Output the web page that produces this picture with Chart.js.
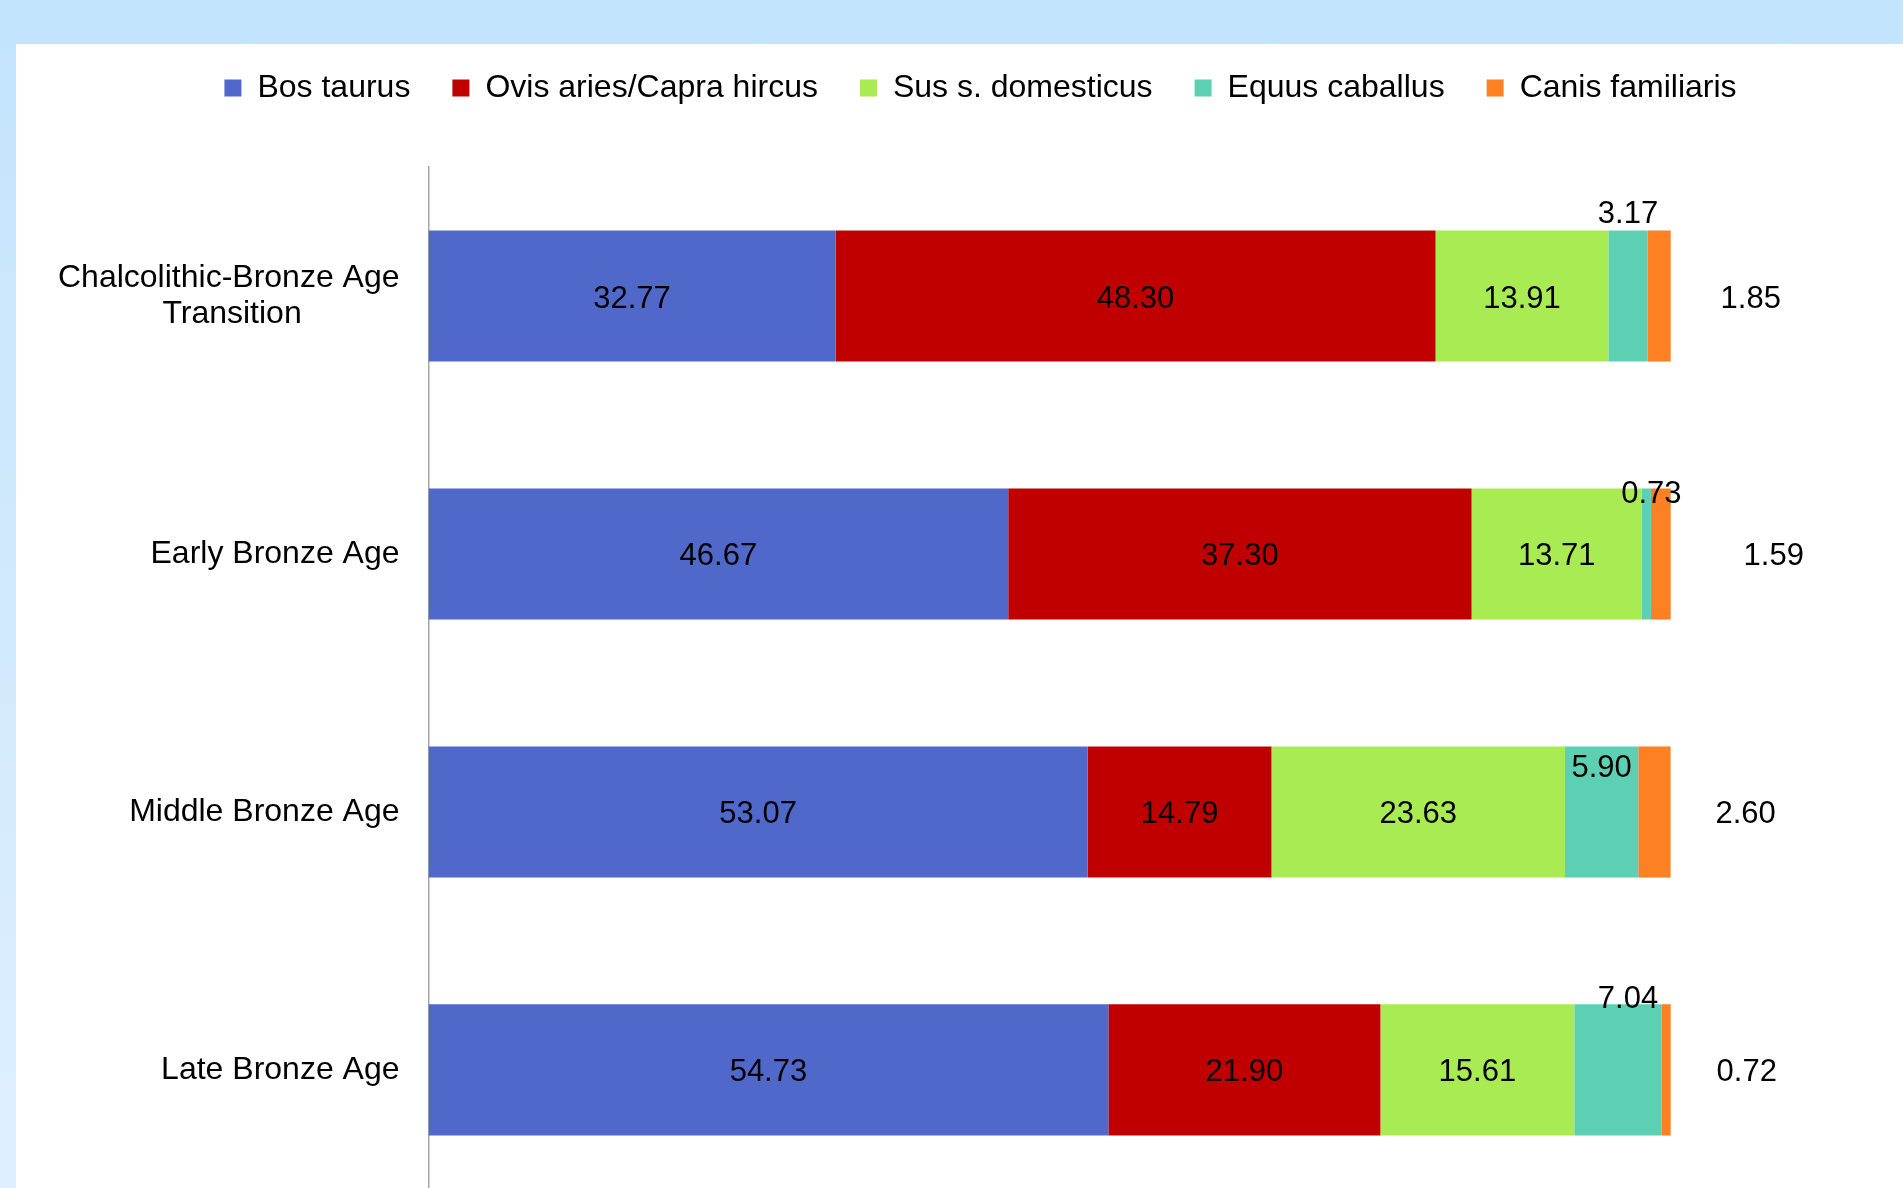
<!DOCTYPE html>
<html>
<head>
<meta charset="utf-8">
<title>Fauna por periodo</title>
<script src="https://cdn.jsdelivr.net/npm/chart.js@4.4.1/dist/chart.umd.min.js"></script>
<style>
    html, body { margin: 0; padding: 0; }
    body {
        width: 1903px;
        height: 1188px;
        overflow: hidden;
        position: relative;
        background: linear-gradient(180deg, #c2e4fd 0%, #d0e9fd 45%, #deefff 100%);
    }
    #panel { position: absolute; left: 16px; top: 44px; right: 0; bottom: 0; background: #fff; }
    #grafico { position: absolute; left: 0; top: 0; }
</style>
</head>
<body>
<div id="panel"></div>
<!-- el canvas pasa del borde inferior: el eje se corta abajo -->
<canvas id="grafico" width="1903" height="1235"></canvas>
<script>
// periodos y porcentajes por especie
var periodos = [
    ['Chalcolithic-Bronze Age', 'Transition' + '\u00a0'.repeat(11)],
    'Early Bronze Age',
    'Middle Bronze Age',
    'Late Bronze Age'
];
var especies = ['Bos taurus', 'Ovis aries/Capra hircus', 'Sus s. domesticus', 'Equus caballus', 'Canis familiaris'];
var bosTaurus       = [32.77, 46.67, 53.07, 54.73];
var ovisCapra       = [48.30, 37.30, 14.79, 21.90];
var susDomesticus   = [13.91, 13.71, 23.63, 15.61];
var equusCaballus   = [3.17, 0.73, 5.90, 7.04];
var canisFamiliaris = [1.85, 1.59, 2.60, 0.72];

var colores = ['#5068c9', '#c00000', '#a9eb52', '#5dd0b3', '#fd8023'];

// ajustes a mano de las etiquetas pequeñas (px)
var equusDx = [0, 5, 0, 10];
var equusDy = [-19, 3, 19, -8];   // desde el borde superior de la barra
var canisDx = [80, 103, 75, 76];  // desde el final de la barra

var fuente = '"Liberation Sans", Arial, sans-serif';
Chart.defaults.font.family = fuente;
Chart.defaults.color = '#000';

// valores sobre las barras
var etiquetas = {
    id: 'etiquetas',
    afterDatasetsDraw: function (chart) {
        var ctx = chart.ctx;
        ctx.save();
        ctx.font = '31px ' + fuente;
        ctx.fillStyle = '#000';
        ctx.textAlign = 'center';
        ctx.textBaseline = 'middle';
        chart.data.datasets.forEach(function (ds, d) {
            chart.getDatasetMeta(d).data.forEach(function (bar, i) {
                var x = (bar.x + bar.base) / 2;
                var y = bar.y + 3;
                if (d === 3) {
                    x += equusDx[i];
                    y = bar.y - bar.height / 2 + equusDy[i] + 3;
                } else if (d === 4) {
                    x = bar.x + canisDx[i];
                }
                ctx.fillText(ds.data[i].toFixed(2), x, y);
            });
        });
        ctx.restore();
    }
};

// mas aire entre la leyenda y el grafico
var espacioLeyenda = {
    id: 'espacioLeyenda',
    beforeLayout: function (chart) {
        var legend = chart.legend;
        if (!legend || legend._altoFijo) return;
        var fit = legend.fit;
        legend.fit = function () {
            fit.call(this);
            this.height = 137;
        };
        legend._altoFijo = true;
    }
};

var series = [bosTaurus, ovisCapra, susDomesticus, equusCaballus, canisFamiliaris];

var ctx = document.getElementById('grafico').getContext('2d');
var grafico = new Chart(ctx, {
    type: 'bar',
    data: {
        labels: periodos,
        datasets: series.map(function (valores, i) {
            return {
                label: especies[i],
                data: valores,
                backgroundColor: colores[i],
                borderWidth: 0,
                barPercentage: 0.508,
                categoryPercentage: 1
            };
        })
    },
    options: {
        indexAxis: 'y',
        responsive: false,
        animation: false,
        layout: { padding: { top: 30, left: 58, right: 0, bottom: 0 } },
        plugins: {
            legend: {
                position: 'top',
                labels: {
                    boxWidth: 17,
                    boxHeight: 17,
                    padding: 42,
                    color: '#000',
                    font: { size: 32 }
                }
            },
            tooltip: { enabled: false }
        },
        scales: {
            x: {
                stacked: true,
                display: false,
                min: 0,
                max: 118.7   // deja sitio a la derecha para las etiquetas de Canis
            },
            y: {
                stacked: true,
                // sin marcas, pero su largo separa los nombres del eje
                grid: { display: false, tickLength: 29 },
                border: { display: true, color: '#a6a6a6', width: 1.5 },
                ticks: {
                    padding: 0,
                    color: '#000',
                    font: { size: 32, lineHeight: 1.13 }
                }
            }
        }
    },
    plugins: [etiquetas, espacioLeyenda]
});
</script>
</body>
</html>
